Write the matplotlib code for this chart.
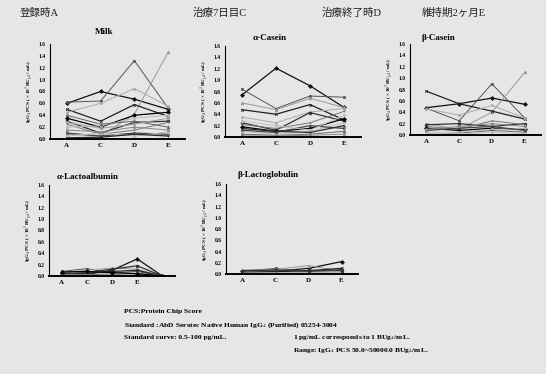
import matplotlib
matplotlib.use("Agg")
from matplotlib import pyplot as plt

# header / panel texts
headers = ["登録時A", "治療7日目C", "治療終了時D", "維持期2ヶ月E"]
titles = ["Milk", "α-Casein", "β-Casein", "α-Lactoalbumin", "β-Lactoglobulin"]
cats = ["A", "C", "D", "E"]
cats_lact = ["A", "C", "D", "E", ""]
yticks = [0.0, 0.2, 0.4, 0.6, 0.8, 1.0, 1.2, 1.4, 1.6]
ylabel = "IgG$_4$ PCS ( × 10$^3$ BU$_{g4}$ / mL)"

# values (one list per patient)
milk = [
    [0.60, 0.80, 0.67, 0.50],
    [0.62, 0.64, 1.32, 0.52],
    [0.08, 0.05, 0.42, 1.46],
    [0.50, 0.30, 0.58, 0.38],
    [0.45, 0.60, 0.85, 0.55],
    [0.30, 0.10, 0.28, 0.30],
    [0.25, 0.08, 0.15, 0.28],
    [0.35, 0.20, 0.40, 0.45],
    [0.20, 0.22, 0.35, 0.40],
    [0.40, 0.25, 0.30, 0.20],
    [0.10, 0.05, 0.10, 0.08],
    [0.05, 0.10, 0.05, 0.12],
    [0.15, 0.12, 0.20, 0.15],
    [0.02, 0.03, 0.08, 0.05],
    [0.28, 0.18, 0.25, 0.35],
]
a_casein = [
    [0.74, 1.21, 0.90, 0.52],
    [0.84, 0.50, 0.72, 0.70],
    [0.60, 0.48, 0.68, 0.52],
    [0.48, 0.40, 0.57, 0.30],
    [0.35, 0.25, 0.44, 0.50],
    [0.25, 0.12, 0.43, 0.28],
    [0.22, 0.15, 0.25, 0.45],
    [0.18, 0.10, 0.15, 0.32],
    [0.10, 0.05, 0.10, 0.25],
    [0.05, 0.03, 0.05, 0.10],
    [0.12, 0.08, 0.20, 0.15],
    [0.28, 0.20, 0.12, 0.38],
    [0.02, 0.02, 0.03, 0.05],
    [0.15, 0.10, 0.08, 0.20],
]
b_casein = [
    [0.48, 0.55, 0.65, 0.54],
    [0.47, 0.25, 0.90, 0.30],
    [0.20, 0.10, 0.40, 1.10],
    [0.77, 0.55, 0.42, 0.28],
    [0.46, 0.35, 0.52, 0.30],
    [0.18, 0.20, 0.15, 0.20],
    [0.15, 0.10, 0.25, 0.18],
    [0.12, 0.08, 0.12, 0.10],
    [0.05, 0.05, 0.10, 0.12],
    [0.02, 0.03, 0.08, 0.05],
    [0.08, 0.12, 0.15, 0.08],
    [0.03, 0.02, 0.05, 0.02],
    [0.10, 0.15, 0.20, 0.15],
]
a_lact = [
    [0.05, 0.03, 0.10, 0.30, 0.0],
    [0.08, 0.13, 0.05, 0.08, 0.0],
    [0.06, 0.10, 0.14, 0.12, 0.0],
    [0.03, 0.05, 0.08, 0.10, 0.0],
    [0.02, 0.02, 0.05, 0.03, 0.0],
    [0.04, 0.06, 0.12, 0.18, 0.0],
    [0.01, 0.03, 0.02, 0.05, 0.0],
    [0.07, 0.08, 0.06, 0.04, 0.0],
]
b_lacto = [
    [0.06, 0.05, 0.10, 0.22],
    [0.05, 0.10, 0.05, 0.08],
    [0.07, 0.08, 0.15, 0.05],
    [0.03, 0.04, 0.06, 0.10],
    [0.02, 0.02, 0.03, 0.02],
    [0.06, 0.07, 0.05, 0.06],
]

notes_left = ["PCS:Protein Chip Score",
              "Standard :AbD Serotec Native Human IgG$_4$ (Purified) 05254-3004",
              "Standard curve: 0.5-100 pg/mL."]
notes_right = ["1 pg/mL corresponds to 1 BUg$_4$/mL.",
               "Range: IgG$_4$ PCS 50.0~50000.0 BUg$_4$/mL."]

W, H = 546, 374
bg = "#e6e6e6"
serif = ["Liberation Serif", "DejaVu Serif"]
plt.rcParams["font.family"] = serif
plt.rcParams["mathtext.fontset"] = "stix"

colors = ["#111111", "#555555", "#999999", "#222222", "#aaaaaa", "#333333",
          "#777777", "#000000", "#bbbbbb", "#666666", "#444444", "#c0c0c0",
          "#888888", "#2a2a2a", "#a0a0a0"]
markers = ["D", "s", "^", "x", "*", "o", "+", "D", "s", "^", "x", "o", "*", "+", "s"]


def box(x0, y0, x1, y1):
    return [x0 / W, 1 - y1 / H, (x1 - x0) / W, (y1 - y0) / H]


fig = plt.figure(figsize=(W / 100, H / 100), dpi=100, facecolor=bg)

panels = [
    (milk, cats, (50, 44, 185, 139), (104, 32)),
    (a_casein, cats, (225, 46, 361, 137), (270, 38)),
    (b_casein, cats, (410, 44, 541, 135), (438, 38)),
    (a_lact, cats_lact, (49, 185, 175, 276), (88, 177)),
    (b_lacto, cats, (226, 184, 358, 274), (268, 175)),
]

for (series, labels, rect, tpos), title in zip(panels, titles):
    ax = fig.add_axes(box(*rect))
    ax.set_facecolor("none")
    x = list(range(len(labels)))
    for i, vals in enumerate(series):
        c = colors[i % len(colors)]
        ax.plot(x, vals, color=c, lw=0.9 if c < "#5" else 0.7,
                marker=markers[i % len(markers)], ms=2.0, mew=0.5,
                mfc=c, mec=c)
    ax.set_xlim(-0.5, len(labels) - 0.5)
    ax.set_ylim(0, 1.6)
    ax.set_yticks(yticks)
    ax.set_yticklabels([f"{v:.1f}" for v in yticks], fontsize=4, fontweight="bold")
    ax.set_xticks(x)
    ax.set_xticklabels(labels, fontsize=5, fontweight="bold")
    ax.tick_params(length=0, pad=3)
    for s in ["top", "right"]:
        ax.spines[s].set_visible(False)
    ax.spines["bottom"].set_linewidth(1.4)
    ax.spines["left"].set_linewidth(0.8)
    ax.set_ylabel(ylabel, fontsize=3.6, fontweight="bold", labelpad=2)
    fig.text(tpos[0] / W, 1 - tpos[1] / H, title, ha="center", va="center",
             fontsize=6.5, fontweight="bold")

hx = [20, 193, 322, 422]
for xh, txt in zip(hx, headers):
    fig.text(xh / W, 1 - 13 / H, txt, ha="left", va="center", fontsize=7.6,
             family=["Liberation Serif", "Noto Sans CJK JP"], color="#222222")

for i, t in enumerate(notes_left):
    fig.text(124 / W, 1 - (312 + i * 13) / H, t, ha="left", va="center",
             fontsize=5.4, fontweight="bold")
for i, t in enumerate(notes_right):
    fig.text(293 / W, 1 - (338 + i * 12.5) / H, t, ha="left", va="center",
             fontsize=5.4, fontweight="bold")

fig.savefig("out.png", dpi=100, facecolor=bg)
